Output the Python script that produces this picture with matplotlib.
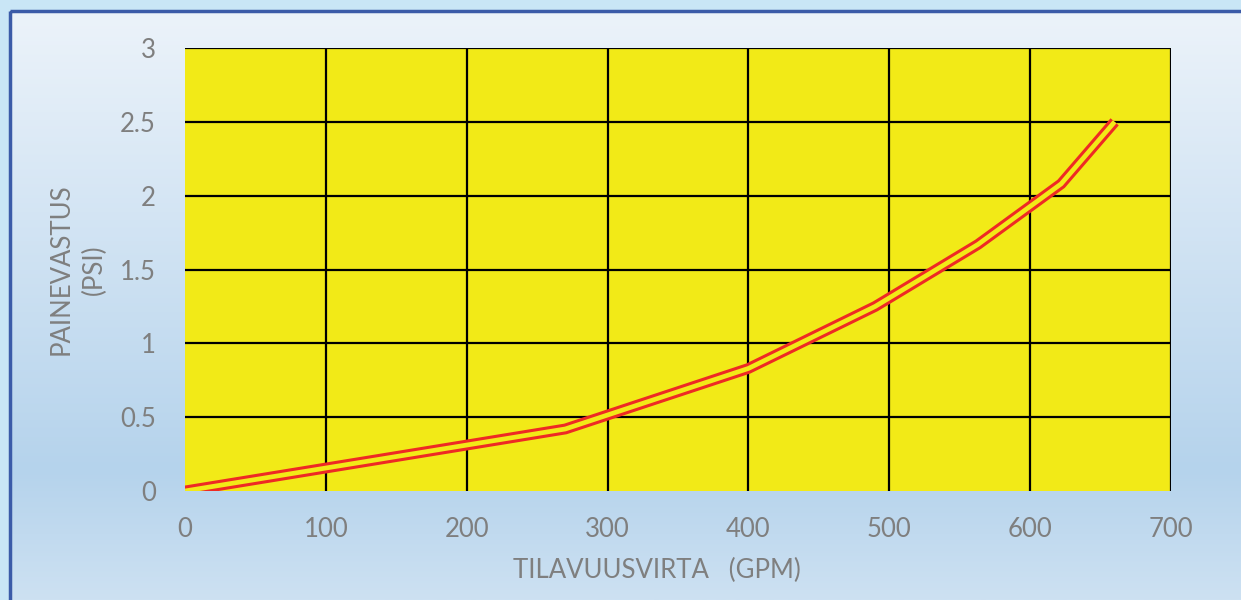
import numpy as np
import matplotlib
matplotlib.use("Agg")
import matplotlib.pyplot as plt
from matplotlib.patches import Rectangle

# --- DATA ---
flow_gpm = [0, 270, 400, 490, 563, 622, 660]
pressure_psi = [0.0, 0.42, 0.83, 1.25, 1.67, 2.08, 2.5]
x_ticks = [0, 100, 200, 300, 400, 500, 600, 700]
y_ticks = [0, 0.5, 1, 1.5, 2, 2.5, 3]
y_tick_labels = ["0", "0.5", "1", "1.5", "2", "2.5", "3"]

# --- STYLE ---
PLOT_YELLOW = "#F2EA17"
LINE_RED = "#EE2A24"
TEXT_GRAY = "#7F7F7F"
BORDER_BLUE = "#3B5BA8"
FS = 18.5

plt.rcParams['font.family'] = ['Lato', 'DejaVu Sans']

fig = plt.figure(figsize=(12.41, 6), dpi=100)
fig.patch.set_facecolor("#C9E6F6")

# background gradient for the chart area, drawn in pixel coords
bg = fig.add_axes([0, 0, 1, 1], zorder=-2)
bg.set_xlim(0, 1241)
bg.set_ylim(600, 0)
bg.axis("off")
top_c = np.array([236, 243, 250]) / 255
mid_c = np.array([181, 211, 236]) / 255
bot_c = np.array([205, 225, 242]) / 255
rows = np.linspace(0, 1, 300)
grad = np.zeros((300, 1, 3))
for i, t in enumerate(rows):
    if t < 0.78:
        s = t / 0.78
        grad[i, 0] = top_c * (1 - s) + mid_c * s
    else:
        s = (t - 0.78) / 0.22
        grad[i, 0] = mid_c * (1 - s) + bot_c * s
bg.imshow(grad, extent=[10, 1241, 600, 11], aspect="auto", interpolation="bilinear")
bg.add_patch(Rectangle((10, 11), 1240, 600, fill=False, edgecolor=BORDER_BLUE, lw=2.5))

ax = fig.add_axes([185 / 1241, 109 / 600, 986 / 1241, 443 / 600])
ax.set_facecolor(PLOT_YELLOW)

# double line (Excel compound line)
ax.plot(flow_gpm, pressure_psi, color=LINE_RED, lw=7.8,
        solid_capstyle="butt", solid_joinstyle="miter", zorder=3)
ax.plot(flow_gpm, pressure_psi, color=PLOT_YELLOW, lw=3.4,
        solid_capstyle="butt", solid_joinstyle="miter", zorder=4)

ax.set_xlim(0, 700)
ax.set_ylim(0, 3)
ax.set_xticks(x_ticks)
ax.set_yticks(y_ticks)
ax.set_yticklabels(y_tick_labels)

# gridlines (none on the axis lines at 0)
for xv in x_ticks[1:]:
    ax.axvline(xv, color="black", lw=1.6, zorder=2)
for yv in y_ticks[1:]:
    ax.axhline(yv, color="black", lw=1.6, zorder=2)

for sp in ax.spines.values():
    sp.set_visible(False)

ax.tick_params(axis="both", length=0, labelsize=FS, labelcolor=TEXT_GRAY)
ax.tick_params(axis="y", pad=21)
ax.tick_params(axis="x", pad=19)

ax.set_xlabel("TILAVUUSVIRTA   (GPM)", fontsize=FS, color=TEXT_GRAY)
ax.xaxis.set_label_coords(0.479, -0.152)
ax.set_ylabel("PAINEVASTUS\n(PSI)", fontsize=FS, color=TEXT_GRAY, linespacing=1.4)
ax.yaxis.set_label_coords(-0.079, 0.5)

fig.savefig("out.png", dpi=100, facecolor=fig.get_facecolor())
